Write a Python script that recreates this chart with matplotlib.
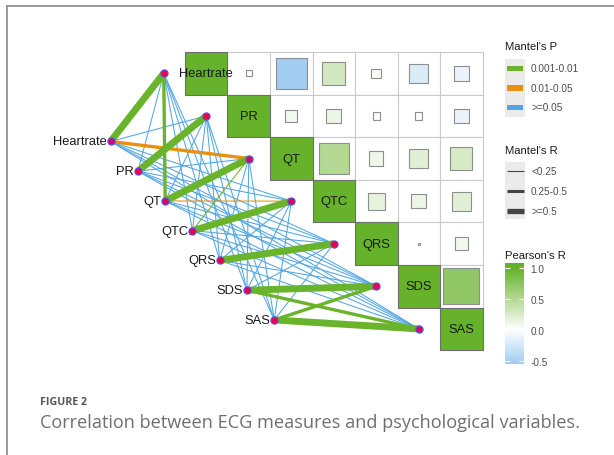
import numpy as np
import matplotlib
matplotlib.use("Agg")
import matplotlib.pyplot as plt
from matplotlib.colors import LinearSegmentedColormap, Normalize
from matplotlib.patches import Rectangle
from matplotlib.cm import ScalarMappable

W, H = 614, 456

labels = ["Heartrate", "PR", "QT", "QTC", "QRS", "SDS", "SAS"]

# Pearson's r, upper triangle (row i, columns i+1 .. 6)
r_heartrate = [0.02, -0.52, 0.30, 0.05, -0.20, -0.12]
r_pr = [0.08, 0.12, 0.03, 0.03, -0.12]
r_qt = [0.50, 0.11, 0.20, 0.27]
r_qtc = [0.16, 0.12, 0.20]
r_qrs = [0.003, 0.09]
r_sds = [0.72]
pearson_rows = [r_heartrate, r_pr, r_qt, r_qtc, r_qrs, r_sds, []]

# Mantel test classes: one row per left node, one entry per right node
p_labels = ["0.001-0.01", "0.01-0.05", ">=0.05"]
r_labels = ["<0.25", "0.25-0.5", ">=0.5"]
mantel_p = [
    [0, 2, 1, 2, 2, 2, 2],
    [2, 0, 2, 2, 2, 2, 2],
    [0, 2, 0, 1, 2, 2, 2],
    [2, 2, 0, 0, 2, 2, 2],
    [2, 2, 2, 2, 0, 2, 2],
    [2, 2, 2, 2, 2, 0, 0],
    [2, 2, 2, 2, 2, 0, 0],
]
mantel_r = [
    [2, 0, 1, 0, 0, 0, 0],
    [0, 2, 0, 0, 0, 0, 0],
    [1, 0, 2, 0, 0, 0, 0],
    [0, 0, 0, 2, 0, 0, 0],
    [0, 0, 0, 0, 2, 0, 0],
    [0, 0, 0, 0, 0, 2, 1],
    [0, 0, 0, 0, 0, 1, 2],
]
cbar_ticks = [1.0, 0.5, 0.0, -0.5]

# styles
p_colors = ["#6AB42C", "#E8900F", "#52A6E4"]
line_w = [0.75, 2.4, 5.0]
key_w = [0.8, 2.2, 3.8]
vmin, vmax = -0.55, 1.08
cmap = LinearSegmentedColormap.from_list(
    "pr", [(0.0, "#9FCBEF"), ((0 - vmin) / (vmax - vmin), "#FFFFFF"),
           ((1 - vmin) / (vmax - vmin), "#66B22A"), (1.0, "#62AF27")])
norm = Normalize(vmin, vmax)

plt.rcParams["font.family"] = ["Liberation Sans", "DejaVu Sans"]
fig = plt.figure(figsize=(W / 100, H / 100), dpi=100)

# main plot, one unit = one matrix cell
cell_x, cell_y = 42.5, 42.6
x0, y0 = 185, 53
ax = fig.add_axes([0, 0, 1, 1])
ax.set_xlim(-x0 / cell_x, (W - x0) / cell_x)
ax.set_ylim((H - y0) / cell_y, -y0 / cell_y)
ax.axis("off")

n = len(labels)
for i in range(n):
    for k, r in enumerate(pearson_rows[i]):
        j = i + 1 + k
        ax.add_patch(Rectangle((j, i), 1, 1, fc="white", ec="#C9C9C9", lw=0.8, zorder=1))
        s = np.sqrt(abs(r))
        ax.add_patch(Rectangle((j + 0.5 - s / 2, i + 0.5 - s / 2), s, s,
                               fc=cmap(norm(r)), ec="#8E8E8E", lw=0.8, zorder=2))
for i in range(n):
    ax.add_patch(Rectangle((i, i), 1, 1, fc=cmap(norm(1.0)), ec="#6E6E6E", lw=0.8, zorder=3))
    ax.text(i + 0.5, i + 0.5, labels[i], ha="center", va="center", fontsize=9.3,
            color="#1A1A1A", zorder=4)

# node layout
right_x = np.arange(n) - 0.5
right_y = np.arange(n) + 0.5
left_x = np.linspace(-1.75, 2.10, n)
left_y = np.linspace(2.10, 6.29, n)

for layer in (2, 1, 0):
    for i in range(n):
        for j in range(n):
            if mantel_p[i][j] != layer:
                continue
            ax.plot([left_x[i], right_x[j]], [left_y[i], right_y[j]],
                    color=p_colors[layer], lw=line_w[mantel_r[i][j]],
                    solid_capstyle="butt", zorder=5 + (2 - layer))

ax.scatter(left_x, left_y, s=26, c="#F0003C", edgecolors="#5B4BF0", linewidths=0.9, zorder=10)
ax.scatter(right_x, right_y, s=26, c="#F0003C", edgecolors="#5B4BF0", linewidths=0.9, zorder=10)
for i in range(n):
    ax.text(left_x[i] - 0.09, left_y[i], labels[i], ha="right", va="center",
            fontsize=9.3, color="#1A1A1A", zorder=11)

# legends drawn on a pixel overlay
lax = fig.add_axes([0, 0, 1, 1])
lax.set_xlim(0, W)
lax.set_ylim(H, 0)
lax.axis("off")
lax.patch.set_alpha(0)

title_kw = dict(fontsize=8.1, color="#1A1A1A", ha="left", va="baseline")
text_kw = dict(fontsize=7.2, color="#4D4D4D", ha="left", va="center")

lax.text(505, 50.5, "Mantel's P", **title_kw)
lax.add_patch(Rectangle((505, 60), 20, 58, fc="#EBEBEB", ec="none"))
for k, yc in enumerate([69.5, 89, 108.5]):
    lax.add_patch(Rectangle((506.7, yc - 2.6), 16.6, 5.2, fc=p_colors[k], ec="none"))
    lax.text(531, yc, p_labels[k], **text_kw)

lax.text(505, 154, "Mantel's R", **title_kw)
lax.add_patch(Rectangle((505, 163), 20, 57, fc="#EBEBEB", ec="none"))
for k, yc in enumerate([172.3, 192.3, 211.7]):
    lax.plot([506.5, 523.5], [yc, yc], color="#444444", lw=key_w[k], solid_capstyle="butt")
    lax.text(531, yc, r_labels[k], **text_kw)

lax.text(505, 259, "Pearson's R", **title_kw)

# frame and caption
lax.plot([7, W], [7, 7], color="#8A8A8A", lw=1.2)
lax.plot([7, 7], [7, H], color="#8A8A8A", lw=1.2)
lax.text(40.5, 405, "FIGURE 2", fontsize=7.7, fontweight="bold", color="#555555",
         family="Open Sans", ha="left", va="baseline")
lax.text(39.5, 428.5, "Correlation between ECG measures and psychological variables.",
         fontsize=13.1, color="#6E6E6E", family="Open Sans", ha="left", va="baseline")

# colorbar
cax = fig.add_axes([505 / W, 1 - 365 / H, 19 / W, 101 / H])
cb = fig.colorbar(ScalarMappable(norm=norm, cmap=cmap), cax=cax, ticks=cbar_ticks)
cb.outline.set_visible(False)
cb.ax.set_yticklabels([f"{t:.1f}" for t in cbar_ticks])
cb.ax.tick_params(axis="y", direction="in", length=3.5, width=0.8, color="white",
                  left=True, right=True, labelsize=7.2, labelcolor="#4D4D4D", pad=4.6)

fig.savefig("out.png", dpi=100)
